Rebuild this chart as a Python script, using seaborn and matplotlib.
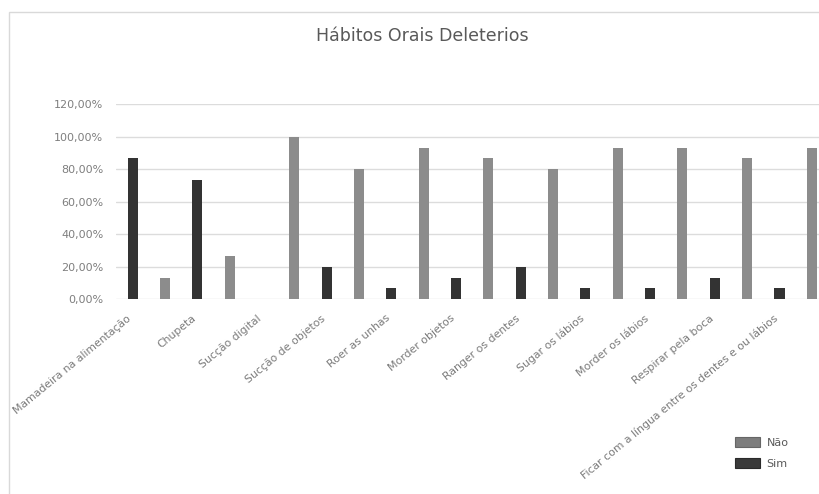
import matplotlib
matplotlib.use("Agg")
import matplotlib.pyplot as plt
import matplotlib.transforms as mtransforms
from matplotlib.patches import Rectangle, Patch
import pandas as pd
import seaborn as sns

# Percentages of children with each oral habit
habitos = [
    "Mamadeira na alimentação",
    "Chupeta",
    "Sucção digital",
    "Sucção de objetos",
    "Roer as unhas",
    "Morder objetos",
    "Ranger os dentes",
    "Sugar os lábios",
    "Morder os lábios",
    "Respirar pela boca",
    "Ficar com a língua entre os dentes e ou lábios",
]
sim = [0.8667, 0.7333, 0.0, 0.20, 0.0667, 0.1333, 0.20, 0.0667, 0.0667, 0.1333, 0.0667]
nao = [0.1333, 0.2667, 1.0, 0.80, 0.9333, 0.8667, 0.80, 0.9333, 0.9333, 0.8667, 0.9333]
y_ticks = [0.0, 0.2, 0.4, 0.6, 0.8, 1.0, 1.2]
y_tick_labels = ["0,00%", "20,00%", "40,00%", "60,00%", "80,00%", "100,00%", "120,00%"]

df = pd.DataFrame({
    "habito": habitos * 2,
    "valor": sim + nao,
    "resposta": ["Sim"] * len(habitos) + ["Não"] * len(habitos),
})

sns.set_theme(style="white")
plt.rcParams["font.family"] = ["DejaVu Sans"]

W, H = 820, 494
fig = plt.figure(figsize=(W / 100, H / 100), dpi=100)
fig.patch.set_facecolor("white")

# outer chart frame
fig.patches.append(Rectangle((9 / W, -0.1), 1.2, 1 - 12 / H + 0.1,
                             transform=fig.transFigure, fill=False,
                             edgecolor="#d9d9d9", lw=1.0))

ax_left, ax_right = 116.5, 828.0
ax_bottom, ax_top = 299.3, 104.3
ax = fig.add_axes([ax_left / W, (H - ax_bottom) / H,
                   (ax_right - ax_left) / W, (ax_bottom - ax_top) / H])

colors = {"Sim": "#333333", "Não": "#8c8c8c"}
sns.barplot(data=df, x="habito", y="valor", hue="resposta",
            hue_order=["Sim", "Não"], order=habitos, palette=colors,
            width=1.0, saturation=1, legend=False, ax=ax, errorbar=None)

# slim bars, keeping their dodge positions
bar_w = 0.155
for p in ax.patches:
    c = p.get_x() + p.get_width() / 2
    p.set_width(bar_w)
    p.set_x(c - bar_w / 2)
    p.set_linewidth(0)

ax.set_xlim(-0.5, len(habitos) - 0.5)
ax.set_ylim(0, 1.2)
ax.set_yticks(y_ticks)
ax.set_yticklabels(y_tick_labels)
ax.yaxis.grid(True, color="#dcdcdc", lw=1.0)
ax.set_axisbelow(True)
for s in ax.spines.values():
    s.set_visible(False)
ax.set_xlabel("")
ax.set_ylabel("")
ax.tick_params(axis="y", length=0, pad=9.5, labelsize=8, labelcolor="#7f7f7f")
ax.tick_params(axis="x", length=0, pad=10, labelsize=7.8, labelcolor="#7a7a7a")

shift = mtransforms.ScaledTranslation(-15.5 / 100, 0, fig.dpi_scale_trans)
for lab in ax.get_xticklabels():
    lab.set_rotation(39.5)
    lab.set_ha("right")
    lab.set_va("top")
    lab.set_transform(lab.get_transform() + shift)

fig.text(422 / W, 1 - 36 / H, "Hábitos Orais Deleterios", ha="center",
         va="center", fontsize=12.5, color="#595959")

handles = [Patch(facecolor="#7d7d7d", edgecolor="#666666", lw=0.8, label="Não"),
           Patch(facecolor="#3a3a3a", edgecolor="#2a2a2a", lw=0.8, label="Sim")]
fig.legend(handles=handles, loc="upper left",
           bbox_to_anchor=(735 / W, 1 - 436.5 / H), frameon=False,
           fontsize=8, labelcolor="#595959", borderpad=0, borderaxespad=0,
           handlelength=2.25, handleheight=1.1, handletextpad=0.6,
           labelspacing=0.9)

fig.savefig("out.png", dpi=100)
